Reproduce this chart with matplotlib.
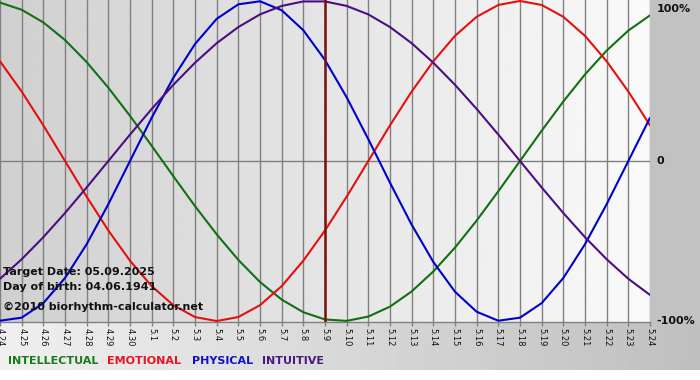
import numpy as np
import matplotlib
matplotlib.use("Agg")
import matplotlib.pyplot as plt
from matplotlib.patches import Rectangle

# ---- data (values in %, read per day from the reference) ----
dates = ["4.24", "4.25", "4.26", "4.27", "4.28", "4.29", "4.30", "5.1", "5.2", "5.3",
         "5.4", "5.5", "5.6", "5.7", "5.8", "5.9", "5.10", "5.11", "5.12", "5.13",
         "5.14", "5.15", "5.16", "5.17", "5.18", "5.19", "5.20", "5.21", "5.22", "5.23", "5.24"]

intellectual = [99.0, 94.5, 86.6, 75.6, 61.8, 45.8, 28.2, 9.5, -9.5, -28.2,
                -45.8, -61.8, -75.6, -86.6, -94.5, -99.0, -99.9, -97.2, -91.0, -81.5,
                -69.0, -54.1, -37.2, -18.9, 0.0, 18.9, 37.2, 54.1, 69.0, 81.5, 91.0]

emotional = [62.3, 43.4, 22.3, 0.0, -22.3, -43.4, -62.3, -78.2, -90.1, -97.5,
             -100.0, -97.5, -90.1, -78.2, -62.3, -43.4, -22.3, 0.0, 22.3, 43.4,
             62.3, 78.2, 90.1, 97.5, 100.0, 97.5, 90.1, 78.2, 62.3, 43.4, 22.3]

physical = [-99.8, -97.9, -88.8, -73.1, -52.0, -27.0, 0.0, 27.0, 52.0, 73.1,
            88.8, 97.9, 99.8, 94.2, 81.7, 63.1, 39.8, 13.6, -13.6, -39.8,
            -63.1, -81.7, -94.2, -99.8, -97.9, -88.8, -73.1, -52.0, -27.0, 0.0, 27.0]

intuitive = [-73.6, -61.4, -47.6, -32.5, -16.5, 0.0, 16.5, 32.5, 47.6, 61.4,
             73.6, 83.7, 91.6, 96.9, 99.7, 99.7, 96.9, 91.6, 83.7, 73.6,
             61.4, 47.6, 32.5, 16.5, 0.0, -16.5, -32.5, -47.6, -61.4, -73.6, -83.7]

target_label = "5.9"
info_lines = ["Target Date: 05.09.2025", "Day of birth: 04.06.1941", "\u00a92010 biorhythm-calculator.net"]
legend_names = ["INTELLECTUAL", "EMOTIONAL", "PHYSICAL", "INTUITIVE"]
y_labels = ["100%", "0", "-100%"]
y_label_vals = [98, 0, -100]

# ---- styles ----
line_colors = ["#127012", "#e41010", "#0000cc", "#4b0f82"]
legend_colors = ["#1a7a1a", "#ee1122", "#1010cc", "#4b1a80"]

W, H = 700, 380
fig = plt.figure(figsize=(W / 100, H / 100), dpi=100)
fig.patch.set_facecolor("white")

# background (figure pixel coordinates)
bg = fig.add_axes([0, 0, 1, 1], zorder=0)
bg.set_xlim(0, W)
bg.set_ylim(H, 0)
bg.axis("off")
grad_bottom = np.linspace(0.94, 0.75, 256)[None, :]
bg.imshow(grad_bottom, cmap="gray", vmin=0, vmax=1, extent=(0, W, 370, 322), aspect="auto")
bg.add_patch(Rectangle((650, 0), 50, 322, color="#c2c2c2", lw=0))

# main plot
plot_h = 322
ax = fig.add_axes([0, (H - plot_h) / H, 650 / W, plot_h / H], zorder=1)
ax.set_facecolor("none")
n = len(dates)
x = np.arange(n)
ax.set_xlim(0, n - 1)
ax.set_ylim(-100.6, 100.6)

grad = np.linspace(0.815, 0.98, 256)[None, :]
ax.imshow(grad, cmap="gray", vmin=0, vmax=1, extent=(0, n - 1, -100.6, 100.6),
          aspect="auto", zorder=0)

ax.set_xticks(x)
ax.set_xticklabels(dates, rotation=270, fontsize=6, family="DejaVu Sans", color="#111111")
ax.tick_params(axis="x", length=3, width=1, color="#808080", pad=1)
ax.set_yticks([])
ax.grid(axis="x", color="#808080", lw=1, zorder=1)
ax.axhline(0, color="#808080", lw=1, zorder=1)
for s in ["top", "left", "right"]:
    ax.spines[s].set_visible(False)
ax.spines["bottom"].set_color("#808080")
ax.spines["bottom"].set_linewidth(1)

for vals, c in zip([intellectual, emotional, physical, intuitive], line_colors):
    ax.plot(x, vals, color=c, lw=1.5, zorder=3, solid_capstyle="round",
            solid_joinstyle="round")

ax.axvline(dates.index(target_label), color="#7a1010", lw=1.8, zorder=4)

for lab, v, va in zip(y_labels, y_label_vals, ["top", "center", "center"]):
    ax.text(n - 1 + 0.3, v, lab, fontsize=8, fontweight="bold", va=va, ha="left",
            clip_on=False, color="#111111")

for txt, yf in zip(info_lines, [0.155, 0.109, 0.047]):
    ax.text(0.004, yf, txt, transform=ax.transAxes, fontsize=8, fontweight="bold",
            va="center", ha="left", color="#111111", zorder=5)

for name, c, xp in zip(legend_names, legend_colors, [8, 107, 192, 262]):
    fig.text(xp / W, 1 - 361 / H, name, color=c, fontsize=8, fontweight="bold",
             va="center", ha="left")

fig.savefig("out.png", dpi=100)
